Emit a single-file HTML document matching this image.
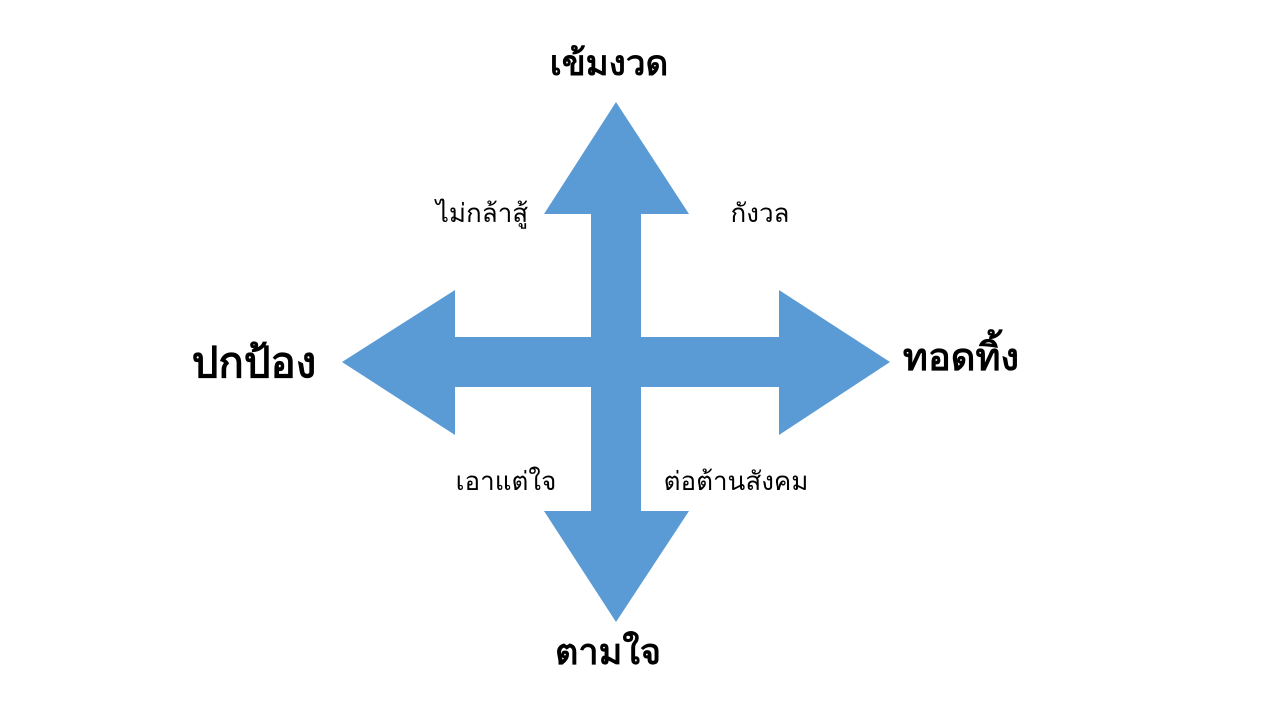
<!DOCTYPE html>
<html><head><meta charset="utf-8"><style>
html,body{margin:0;padding:0;background:#fff;}
svg{display:block;}
text{font-family:"Liberation Sans","DejaVu Sans",sans-serif;fill:#000;}
.b{font-weight:bold;font-size:38px;}
.s{font-size:26px;}
</style></head><body>
<svg width="1280" height="720" viewBox="0 0 1280 720">
<polygon fill="#5B9BD5" points="616,102 689,214 641,214 641,337 779,337 779,290 890,362 779,435 779,387 641,387 641,511 689,511 616,622 544,511 591,511 591,387 455,387 455,435 342,362 455,290 455,337 591,337 591,214 544,214"/>
<text class="b" x="609" y="75" text-anchor="middle" style="font-size:35px">เข้มงวด</text>
<text class="b" x="608" y="664" text-anchor="middle" style="font-size:36px">ตามใจ</text>
<text class="b" x="254" y="377" text-anchor="middle" style="font-size:42px">ปกป้อง</text>
<text class="b" x="961" y="370" text-anchor="middle">ทอดทิ้ง</text>
<text class="s" x="482" y="222" text-anchor="middle">ไม่กล้าสู้</text>
<text class="s" x="760" y="222" text-anchor="middle">กังวล</text>
<text class="s" x="506" y="490" text-anchor="middle">เอาแต่ใจ</text>
<text class="s" x="736" y="490" text-anchor="middle">ต่อต้านสังคม</text>
</svg>
</body></html>
